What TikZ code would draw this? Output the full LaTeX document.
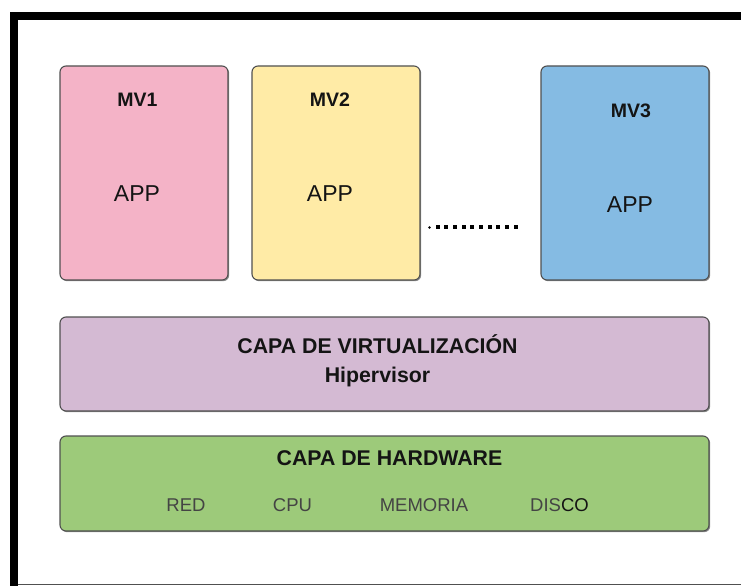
\documentclass[tikz,border=0pt]{standalone}
\usepackage{fontspec}
\setmainfont{Liberation Sans}
\usetikzlibrary{shadows}

\definecolor{mvpink}{HTML}{F4B3C7}
\definecolor{mvyellow}{HTML}{FFEBA6}
\definecolor{mvblue}{HTML}{85BBE3}
\definecolor{virtpurple}{HTML}{D4BAD3}
\definecolor{hwgreen}{HTML}{9DCA7A}
\definecolor{boxline}{HTML}{505050}
\definecolor{softtext}{HTML}{444444}
\definecolor{darktext}{HTML}{141414}

\tikzset{
  layerbox/.style={draw=boxline, line width=1.1pt, rounded corners=6pt,
    inner sep=0pt,
    drop shadow={shadow xshift=1.2pt, shadow yshift=-1.2pt, fill=black, opacity=0.45}},
  vmbox/.style={layerbox, minimum width=168pt, minimum height=214pt},
  wide/.style={layerbox, minimum width=649pt, minimum height=94pt},
  title/.style={anchor=base, inner sep=0pt, text=darktext,
    font=\bfseries\fontsize{19.5}{22}\selectfont},
  layertitle/.style={title, font=\bfseries\fontsize{21.3}{24}\selectfont},
  apptext/.style={anchor=base, inner sep=0pt, text=darktext,
    font=\fontsize{23}{26}\selectfont},
  part/.style={anchor=base, inner sep=0pt, text=softtext,
    font=\fontsize{18.5}{22}\selectfont}
}

\begin{document}
\begin{tikzpicture}[x=1pt, y=-1pt]
  \useasboundingbox (0,0) rectangle (741,586);

  % outer frame: heavy top and left bars, thin bottom rule
  \fill[black] (10,12) rectangle (741,20);
  \fill[black] (10,12) rectangle (18,586);
  \draw[line width=1pt, boxline] (18,584.5) -- (741,584.5);

  % virtual machines
  \node[vmbox, fill=mvpink]   (mv1) at (144,173) {};
  \node[vmbox, fill=mvyellow] (mv2) at (336,173) {};
  \node[vmbox, fill=mvblue]   (mv3) at (625,173) {};

  \node[title]   (mv1t) at (137.5,106.5) {MV1};
  \node[apptext] (mv1a) at (137,201)   {APP};
  \node[title]   (mv2t) at (330,106.5) {MV2};
  \node[apptext] (mv2a) at (330,201)   {APP};
  \node[title]   (mv3t) at (631,117)   {MV3};
  \node[apptext] (mv3a) at (630,212)   {APP};

  % ellipsis between the machines
  \fill[black] (429.5,227.5) circle (1.3pt);
  \foreach \k in {0,...,9}
    \fill[black] ({435.5+\k*8.67},225.2) rectangle ++(4,4);

  % virtualization layer
  \node[wide, fill=virtpurple] (virt) at (384.5,364) {};
  \node[layertitle] (virtt) at (377.5,353.3) {CAPA DE VIRTUALIZACIÓN};
  \node[layertitle] (hyp)   at (377.5,382)   {Hipervisor};

  % hardware layer
  \node[wide, fill=hwgreen, minimum height=95pt] (hw) at (384.5,483.5) {};
  \node[layertitle] (hwt) at (389.5,465.5) {CAPA DE HARDWARE};
  \node[part] (red)  at (186,511.7)   {RED};
  \node[part] (cpu)  at (292.5,511.7) {CPU};
  \node[part] (mem)  at (424,511.7)   {MEMORIA};
  \node[part] (disk) at (559.5,511.7) {DIS\textcolor{darktext}{CO}};
\end{tikzpicture}
\end{document}
